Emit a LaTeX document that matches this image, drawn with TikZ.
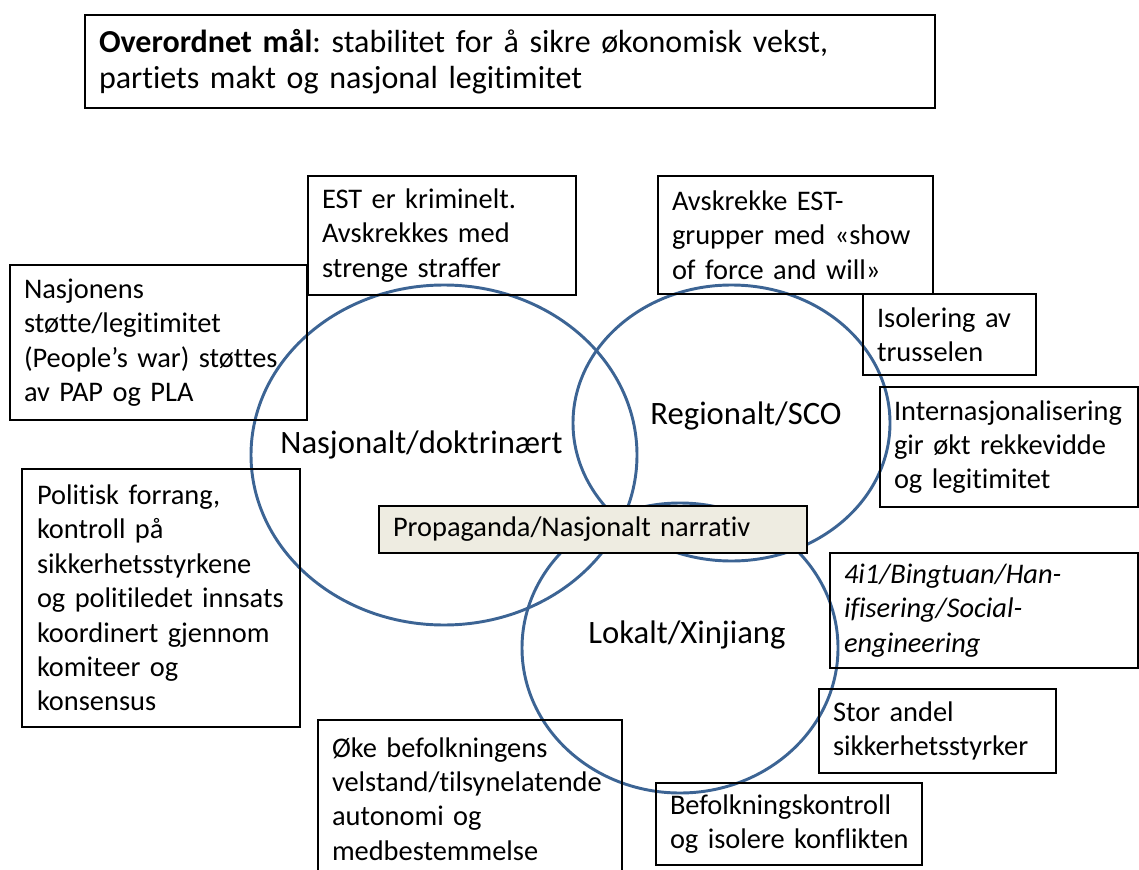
\documentclass[tikz,border=0pt]{standalone}
\usepackage{fontspec}
\setmainfont{Carlito}[Ligatures=NoCommon]
\frenchspacing
\hyphenpenalty=10000
\exhyphenpenalty=10000
\usetikzlibrary{shapes.geometric}
\definecolor{circblue}{HTML}{3C6494}
\definecolor{propfill}{HTML}{EEECE1}
\tikzset{
  circ/.style={ellipse, draw=circblue, line width=2.2pt, inner sep=0pt, outer sep=0pt},
  bx/.style={draw=black, line width=1.1pt, inner xsep=10.5pt, inner ysep=0pt, align=left,
    font=\fontsize{21.3}{25.8}\selectfont},
  lbl/.style={font=\fontsize{24.5}{30}\selectfont, inner sep=0pt}
}
\begin{document}
\begin{tikzpicture}[x=0.75pt,y=-0.75pt]
\useasboundingbox (0,0) rectangle (1139,870);
% circles
\node[circ, minimum width=289.5pt, minimum height=255pt] (c1) at (444,455) {};
\node[circ, minimum width=237.75pt, minimum height=207pt] (c2) at (731.5,423) {};
\node[circ, minimum width=237pt, minimum height=217.5pt] (c3) at (680,648) {};
% labels
\node[lbl, anchor=base] (l1) at (421.5,453) {Nasjonalt/doktrinært};
\node[lbl, anchor=base] (l2) at (746,424) {Regionalt/SCO};
\node[lbl, anchor=base] (l3) at (687,643) {Lokalt/Xinjiang};
% top box
\node[bx, minimum width=637.5pt, minimum height=69.75pt, text width=616.5pt,
  font=\fontsize{24}{27}\selectfont] (top) at (510,61.5)
  {\textbf{Overordnet mål}: stabilitet for å sikre økonomisk vekst,\\partiets makt og nasjonal legitimitet};
% boxes
\node[bx, minimum width=201pt, minimum height=89.25pt, text width=180pt] (est) at (442,235.5)
  {EST er kriminelt.\\Avskrekkes med\\strenge straffer};
\node[bx, minimum width=206.25pt, minimum height=88.5pt, text width=185.25pt] (avs) at (795.5,235)
  {Avskrekke EST-\\grupper med «show\\of force and will»};
\node[bx, minimum width=222.75pt, minimum height=116.25pt, text width=201.75pt] (nas) at (158.5,342.5)
  {Nasjonens\\støtte/legitimitet\\(People’s war) støttes\\av PAP og PLA};
\node[bx, minimum width=129.75pt, minimum height=60.75pt, text width=108.75pt] (iso) at (949.5,334.5)
  {Isolering av\\trusselen};
\node[bx, minimum width=193.5pt, minimum height=90pt, text width=172.5pt] (int) at (1009,447)
  {\mbox{Internasjonalisering}\\gir økt rekkevidde\\og legitimitet};
\node[bx, minimum width=208.5pt, minimum height=193.5pt, text width=186pt, inner xsep=11.25pt] (pol) at (161,598)
  {Politisk forrang,\\kontroll på\\sikkerhetsstyrkene\\\mbox{og politiledet innsats}\\koordinert gjennom\\komiteer og\\konsensus};
\node[bx, fill=propfill, minimum width=321pt, minimum height=35.25pt, text width=300pt] (prop) at (593,529.5)
  {Propaganda/Nasjonalt\ narrativ};
\node[bx, minimum width=231pt, minimum height=86.25pt, text width=210pt] (ital) at (984,610.5)
  {\itshape 4i1/Bingtuan/Han-\\ifisering/Social-\\engineering};
\node[bx, minimum width=177.75pt, minimum height=63pt, text width=156.75pt] (stor) at (937.5,731)
  {Stor andel\\\mbox{sikkerhetsstyrker}};
\node[bx, minimum width=228pt, minimum height=118.5pt, text width=207pt] (oke) at (470,799)
  {Øke befolkningens\\\mbox{velstand/tilsynelatende}\\autonomi og\\medbestemmelse};
\node[bx, minimum width=199.5pt, minimum height=61.5pt, text width=178.5pt] (bef) at (789,824)
  {\mbox{Befolkningskontroll}\\\mbox{og isolere konflikten}};
\end{tikzpicture}
\end{document}
